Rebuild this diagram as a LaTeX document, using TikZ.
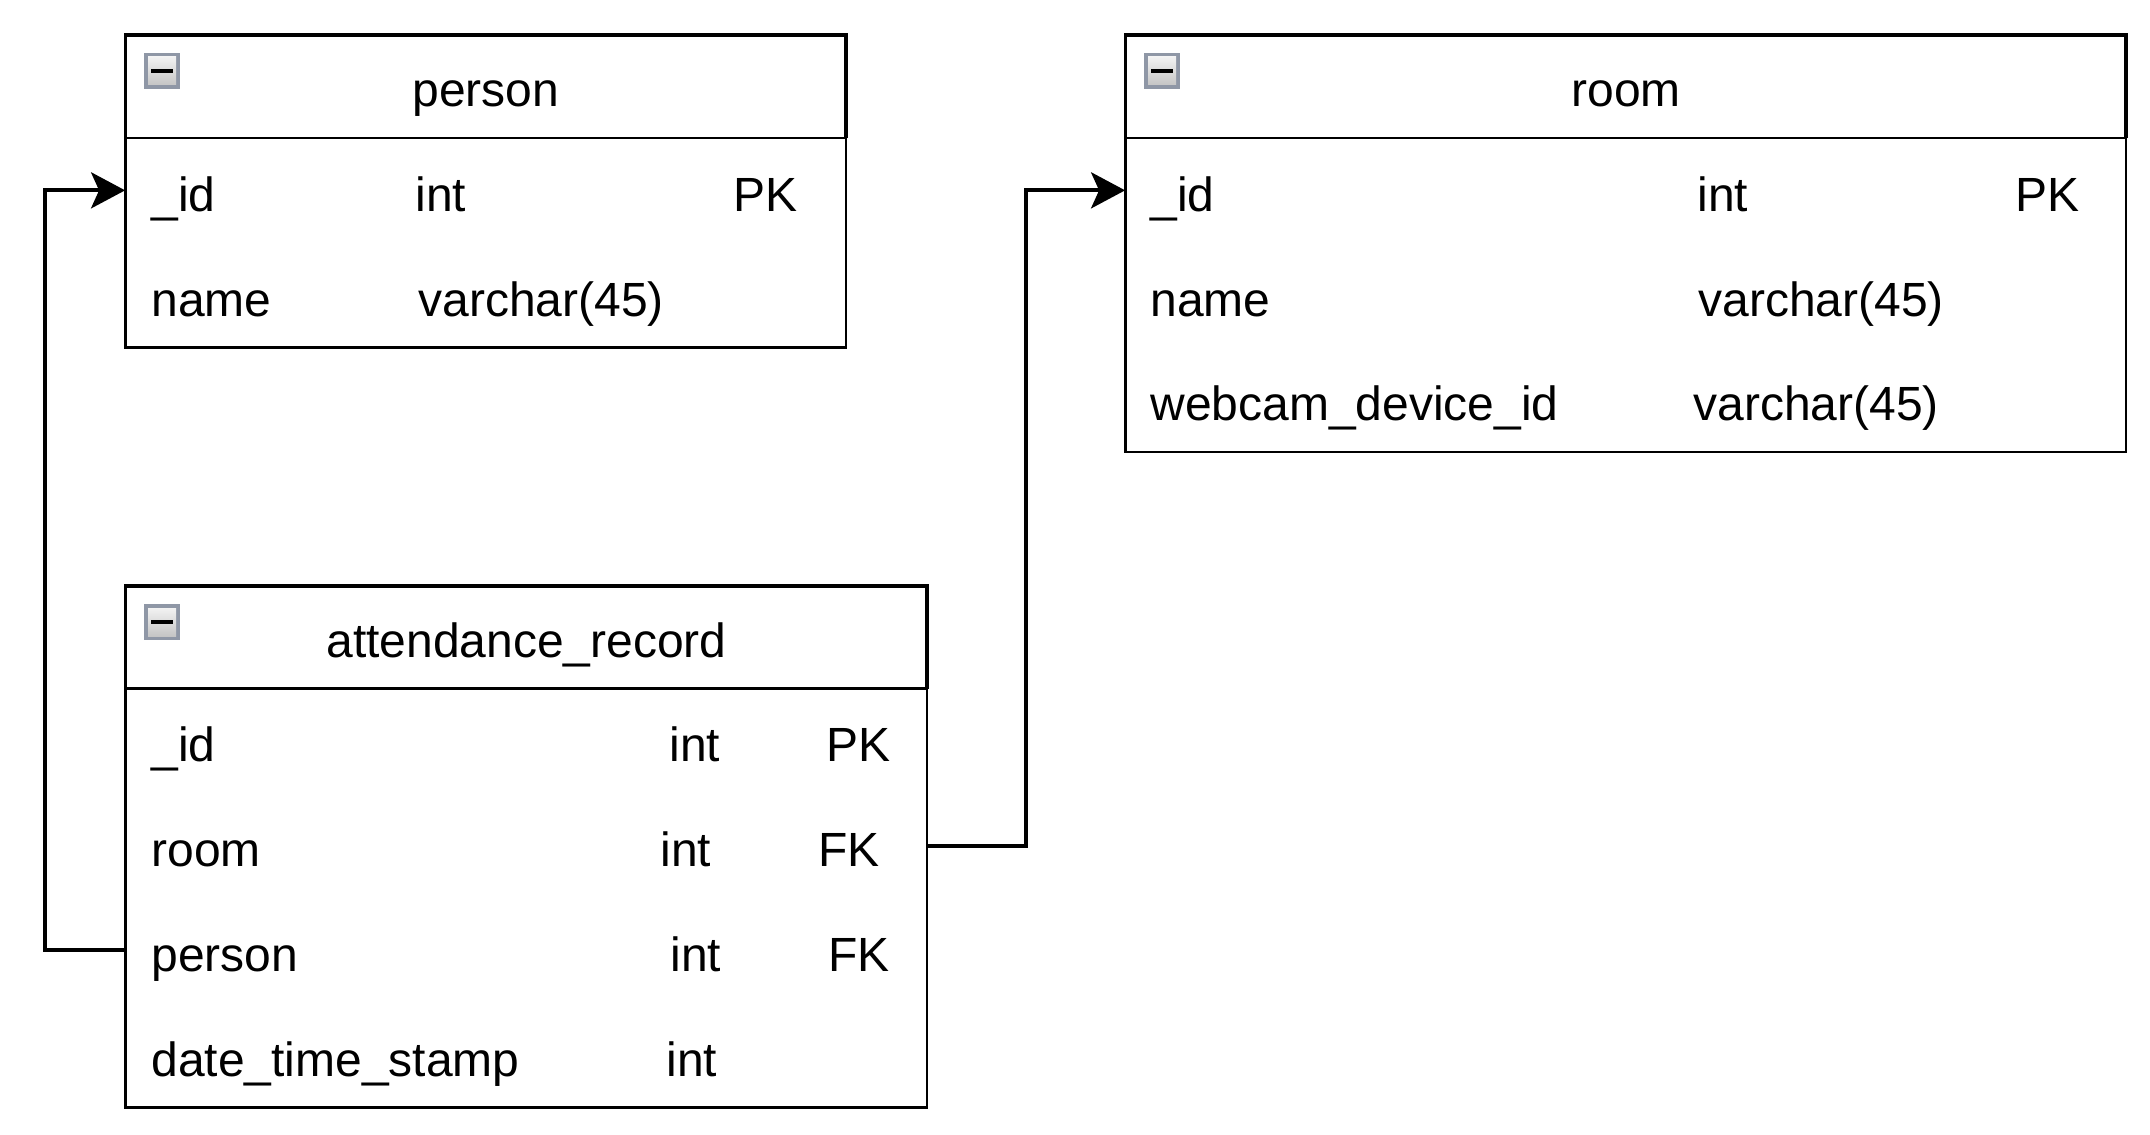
\documentclass[tikz,border=0pt]{standalone}
\usepackage{fontspec}
\setmainfont{Liberation Sans}
\usetikzlibrary{arrows.meta}
\definecolor{iconedge}{RGB}{143,151,166}
\definecolor{icontop}{RGB}{242,242,242}
\definecolor{iconbot}{RGB}{197,197,197}
\newcommand\erdicon[2]{%
  \begin{scope}[shift={(#1,#2)}]
    \fill[iconedge] (0,0) rectangle (36,36);
    \shade[top color=icontop,bottom color=iconbot] (4,4) rectangle (32,32);
    \fill[black] (7,16) rectangle (29,20);
  \end{scope}}
\begin{document}
\begin{tikzpicture}[x=0.5pt,y=-0.5pt,
  txt/.style={inner sep=0pt, anchor=base west, font=\fontsize{24pt}{28pt}\selectfont},
  ttl/.style={inner sep=0pt, anchor=base, font=\fontsize{24pt}{28pt}\selectfont},
  headline/.style={line width=1.65pt, line join=miter},
  bodyline/.style={line width=1.2pt},
  rowcell/.style={rectangle, inner sep=0pt, minimum height=52.35pt},
  link/.style={line width=2pt, -{Stealth[length=17pt,width=18pt,inset=4pt]}},
]
\fill[white] (0,0) rectangle (2150,1134);
\useasboundingbox (0,0) rectangle (2150,1134);

% ---------------- person ----------------
\draw[bodyline] (125.5,138) rectangle (846,347.4);
\draw[headline] (125.5,138) -- (125.5,35) -- (846,35) -- (846,138);
\erdicon{144}{53}
\node[rowcell, minimum width=360.25pt] (p-id)   at (485.75,190.35) {};
\node[rowcell, minimum width=360.25pt] (p-name) at (485.75,295.05) {};
\node[ttl] (p-title) at (486,106.5) {person};
\node[txt] (p-id-n) at (151,211.4) {\_id};
\node[txt] (p-id-t) at (415,211.4) {int};
\node[txt] (p-id-k) at (733,211.4) {PK};
\node[txt] (p-name-n) at (151,316.1) {name};
\node[txt] (p-name-t) at (418,316.1) {varchar(45)};

% ---------------- room ----------------
\draw[bodyline] (1125.5,138) rectangle (2126,452.1);
\draw[headline] (1125.5,138) -- (1125.5,35) -- (2126,35) -- (2126,138);
\erdicon{1144}{53}
\node[rowcell, minimum width=500.25pt] (r-id)   at (1625.75,190.35) {};
\node[rowcell, minimum width=500.25pt] (r-name) at (1625.75,295.05) {};
\node[rowcell, minimum width=500.25pt] (r-cam)  at (1625.75,399.75) {};
\node[ttl] (r-title) at (1626,106.5) {room};
\node[txt] (r-id-n) at (1150,211.4) {\_id};
\node[txt] (r-id-t) at (1697,211.4) {int};
\node[txt] (r-id-k) at (2015,211.4) {PK};
\node[txt] (r-name-n) at (1150,316.1) {name};
\node[txt] (r-name-t) at (1698,316.1) {varchar(45)};
\node[txt] (r-cam-n) at (1150,420.8) {webcam\_device\_id};
\node[txt] (r-cam-t) at (1693,420.8) {varchar(45)};

% ---------------- attendance_record ----------------
\draw[bodyline] (125.5,688.5) rectangle (927,1107.3);
\draw[headline] (125.5,688.5) -- (125.5,586) -- (927,586) -- (927,688.5);
\erdicon{144}{604}
\node[rowcell, minimum width=400.75pt] (a-id)     at (526.25,740.85) {};
\node[rowcell, minimum width=400.75pt] (a-room)   at (526.25,845.55) {};
\node[rowcell, minimum width=400.75pt] (a-person) at (526.25,950.25) {};
\node[rowcell, minimum width=400.75pt] (a-date)   at (526.25,1054.95) {};
\node[ttl] (a-title) at (526.5,657) {attendance\_record};
\node[txt] (a-id-n) at (151,761.9) {\_id};
\node[txt] (a-id-t) at (669,761.9) {int};
\node[txt] (a-id-k) at (826,761.9) {PK};
\node[txt] (a-room-n) at (151,866.6) {room};
\node[txt] (a-room-t) at (660,866.6) {int};
\node[txt] (a-room-k) at (818,866.6) {FK};
\node[txt] (a-person-n) at (151,971.3) {person};
\node[txt] (a-person-t) at (670,971.3) {int};
\node[txt] (a-person-k) at (828,971.3) {FK};
\node[txt] (a-date-n) at (151,1076) {date\_time\_stamp};
\node[txt] (a-date-t) at (666,1076) {int};

% ---------------- connectors ----------------
\draw[link] (a-person.west) -- ++(-80,0) |- (p-id.west);
\draw[link] (a-room.east) -- ++(99,0) |- (r-id.west);
\end{tikzpicture}
\end{document}
